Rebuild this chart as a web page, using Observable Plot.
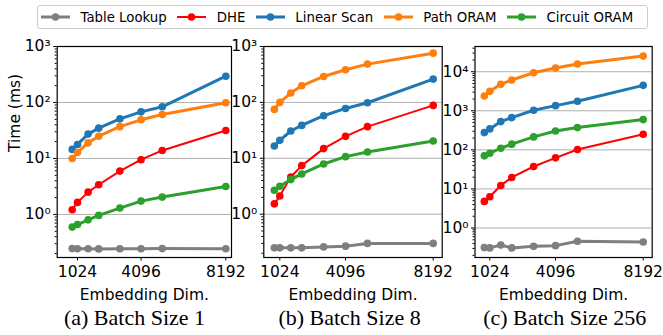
<!DOCTYPE html>
<html><head><meta charset="utf-8">
<script src="https://cdn.jsdelivr.net/npm/d3@7"></script>
<script src="https://cdn.jsdelivr.net/npm/@observablehq/plot@0.6"></script>
<style>
body{margin:0;background:#fff;}
#wrap{position:relative;width:663px;height:335px;overflow:hidden;font-family:"DejaVu Sans";background:#fff;}
#wrap > svg{position:absolute;left:0;top:0;}
#legend{position:absolute;left:37px;top:5px;width:611px;height:24px;border:1px solid #cccccc;border-radius:3px;box-sizing:border-box;display:flex;align-items:center;padding-left:3px;font-size:13.3px;color:#000;background:#fff;}
#legend .item{display:flex;align-items:center;margin-right:10.5px;white-space:nowrap;}
#legend .item svg{margin-right:10.5px;}
.cap{position:absolute;width:220px;text-align:center;font-family:"Liberation Serif";font-size:22px;line-height:22px;color:#000;white-space:nowrap;}
</style></head><body><div id="wrap"></div>
<script>
const dims = [768, 1024, 1536, 2048, 3072, 4096, 5120, 8192];
const methods = ["Table Lookup", "DHE", "Linear Scan", "Path ORAM", "Circuit ORAM"];
const colors = ["#7f7f7f", "#ff0000", "#1f77b4", "#ff7f0e", "#2ca02c"];
const xTicks = [1024, 4096, 8192];
const captions = ["(a) Batch Size 1", "(b) Batch Size 8", "(c) Batch Size 256"];
const xLabel = "Embedding Dim.";
const yLabel = "Time (ms)";

// Batch size 1
const b1Table = [0.245, 0.244, 0.243, 0.242, 0.243, 0.244, 0.245, 0.243];
const b1DHE = [1.21, 1.64, 2.5, 3.39, 5.94, 9.5, 13.9, 31.6];
const b1Linear = [14.5, 17.8, 27.2, 34.8, 51, 68, 83.7, 295];
const b1Path = [10, 12.8, 19, 25, 37, 49, 61, 98.6];
const b1Circuit = [0.594, 0.66, 0.80, 0.96, 1.30, 1.73, 2.04, 3.16];
// Batch size 8
const b8Table = [0.25, 0.25, 0.25, 0.25, 0.26, 0.268, 0.30, 0.30];
const b8DHE = [1.53, 2.12, 4.64, 7.4, 14.9, 24.7, 36.8, 88.4];
const b8Linear = [16.6, 21, 30.8, 38.8, 57.8, 78, 98.6, 261];
const b8Path = [75, 100, 147, 198, 291, 383, 484, 760];
const b8Circuit = [2.68, 3.16, 4.16, 5.25, 7.92, 10.7, 13, 20.4];
// Batch size 256
const b256Table = [0.315, 0.31, 0.368, 0.31, 0.34, 0.354, 0.457, 0.44];
const b256DHE = [4.8, 6.3, 12.3, 19.7, 37.5, 62.5, 102, 251];
const b256Linear = [277, 344, 529, 669, 1030, 1355, 1749, 4478];
const b256Path = [2393, 3147, 4750, 6125, 9430, 12400, 15700, 25100];
const b256Circuit = [70.3, 82.2, 110, 140, 215, 305, 372, 595];

const panels = [
  {series: [b1Table, b1DHE, b1Linear, b1Path, b1Circuit], left: 56.7, right: 231, xDomain: [43, 8467], yDomain: [0.17, 1000], ylabel: true, capX: 134.5},
  {series: [b8Table, b8DHE, b8Linear, b8Path, b8Circuit], left: 263.3, right: 441.7, xDomain: [276, 8612], yDomain: [0.168, 1000], ylabel: false, capX: 349.6},
  {series: [b256Table, b256DHE, b256Linear, b256Path, b256Circuit], left: 474.5, right: 651.7, xDomain: [332, 8612], yDomain: [0.176, 44200], ylabel: false, capX: 564.7}
];

const supMap = {"-": "⁻", "0": "⁰", "1": "¹", "2": "²", "3": "³", "4": "⁴", "5": "⁵"};
const supFmt = v => "10" + String(Math.round(Math.log10(v))).split("").map(c => supMap[c]).join("");

const wrap = document.getElementById("wrap");

function panel(cfg) {
  const [lo, hi] = cfg.yDomain;
  const e0 = Math.ceil(Math.log10(lo)), e1 = Math.floor(Math.log10(hi));
  const major = d3.range(e0, e1 + 1).map(e => 10 ** e);
  const minor = [];
  for (let e = e0 - 1; e <= e1; e++) for (let k = 2; k <= 9; k++) { const v = k * 10 ** e; if (v >= lo && v <= hi) minor.push(v); }
  const marks = [Plot.gridY(major, {stroke: "#b0b0b0", strokeOpacity: 1, strokeWidth: 1})];
  methods.forEach((m, i) => {
    const rows = cfg.series[i].map((v, j) => ({dim: dims[j], value: v, method: m}));
    marks.push(Plot.line(rows, {x: "dim", y: "value", stroke: colors[i], strokeWidth: i === 1 ? 2 : 3}));
    marks.push(Plot.dot(rows, {x: "dim", y: "value", fill: colors[i], r: 3.8}));
  });
  marks.push(
    Plot.axisX(xTicks, {tickSize: 3.5, tickPadding: 5, tickFormat: "d", label: null}),
    Plot.axisY(minor, {tickSize: 2, tickFormat: () => "", label: null}),
    Plot.axisY(major, {tickSize: 3.5, tickPadding: 3, tickFormat: supFmt, label: null}),
    Plot.frame({stroke: "black", strokeWidth: 1.2}),
    Plot.text([xLabel], {text: d => d, frameAnchor: "bottom", dy: 38, fontSize: 15.5, lineAnchor: "middle"})
  );
  if (cfg.ylabel) marks.push(Plot.text([yLabel], {text: d => d, frameAnchor: "left", dx: -42, rotate: -90, fontSize: 15.5}));
  const svg = Plot.plot({
    width: 663, height: 305,
    marginLeft: cfg.left, marginRight: 663 - cfg.right, marginTop: 46, marginBottom: 48,
    style: {fontFamily: "DejaVu Sans", fontSize: "15.5px", background: "transparent", overflow: "visible", color: "black"},
    x: {type: "linear", domain: cfg.xDomain},
    y: {type: "log", domain: cfg.yDomain},
    marks
  });
  wrap.appendChild(svg);
}
panels.forEach(panel);

// legend
const lg = document.createElement("div");
lg.id = "legend";
methods.forEach((m, i) => {
  const it = document.createElement("span");
  it.className = "item";
  it.innerHTML = `<svg width="29" height="10"><line x1="0" x2="29" y1="5" y2="5" stroke="${colors[i]}" stroke-width="${i === 1 ? 2 : 3}"/><circle cx="14.5" cy="5" r="3.8" fill="${colors[i]}"/></svg><span>${m}</span>`;
  lg.appendChild(it);
});
wrap.appendChild(lg);

// captions
panels.forEach((p, i) => {
  const c = document.createElement("div");
  c.className = "cap";
  c.textContent = captions[i];
  c.style.left = (p.capX - 110) + "px";
  c.style.top = "307px";
  wrap.appendChild(c);
});
</script></body></html>
